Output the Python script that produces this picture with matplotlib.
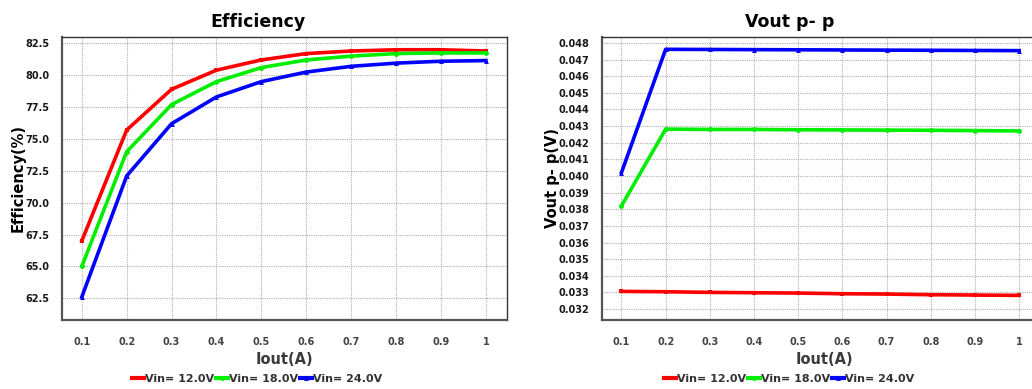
import matplotlib
matplotlib.use("Agg")
import matplotlib.pyplot as plt
from matplotlib.lines import Line2D

iout = [0.1, 0.2, 0.3, 0.4, 0.5, 0.6, 0.7, 0.8, 0.9, 1.0]
xtick_labels = ["0.1", "0.2", "0.3", "0.4", "0.5", "0.6", "0.7", "0.8", "0.9", "1"]
series_names = ["Vin= 12.0V", "Vin= 18.0V", "Vin= 24.0V"]

eff_12 = [67.0, 75.7, 78.9, 80.4, 81.2, 81.7, 81.9, 82.0, 82.0, 81.9]
eff_18 = [65.0, 74.0, 77.7, 79.5, 80.6, 81.2, 81.5, 81.7, 81.75, 81.75]
eff_24 = [62.6, 72.1, 76.2, 78.3, 79.5, 80.25, 80.7, 80.95, 81.1, 81.15]

vpp_12 = [0.03306, 0.03304, 0.03300, 0.03298, 0.03296, 0.03292, 0.03290, 0.03286, 0.03284, 0.03282]
vpp_18 = [0.0382, 0.04282, 0.04280, 0.04280, 0.04278, 0.04277, 0.04276, 0.04275, 0.04273, 0.04271]
vpp_24 = [0.0402, 0.04762, 0.04761, 0.04760, 0.04759, 0.04758, 0.04757, 0.04756, 0.04755, 0.04754]

eff_ticks = [62.5, 65.0, 67.5, 70.0, 72.5, 75.0, 77.5, 80.0, 82.5]
vpp_ticks = [0.032 + 0.001 * i for i in range(17)]

colors = ["#ff0000", "#00ee00", "#0000ff"]
markers = ["s", "o", "^"]

W, H = 1032, 389
fig = plt.figure(figsize=(W / 100, H / 100), dpi=100)

def px_axes(l, t, r, b):
    return fig.add_axes([l / W, 1 - b / H, (r - l) / W, (b - t) / H])

ax1 = px_axes(62, 37, 507, 320)
ax2 = px_axes(602, 37, 1047, 320)

def style(ax, title, title_x, ylabel, ylabel_x, ylim, yticks, yfmt, xlim):
    ax.set_xlim(*xlim)
    ax.set_ylim(*ylim)
    ax.set_xticks(iout)
    ax.set_xticklabels(xtick_labels)
    ax.set_yticks(yticks)
    ax.set_yticklabels([yfmt.format(v) for v in yticks])
    ax.tick_params(length=0, labelsize=7, pad=9)
    ax.tick_params(axis="x", pad=12, colors="#444444")
    ax.tick_params(axis="y", colors="#1a1a1a")
    for lab in ax.get_xticklabels() + ax.get_yticklabels():
        lab.set_fontweight("bold")
    ax.grid(True, color="#b0b0b0", linestyle=(0, (1, 1)), linewidth=0.8)
    ax.set_axisbelow(True)
    for s in ["left", "bottom"]:
        ax.spines[s].set_linewidth(1.6)
        ax.spines[s].set_color("#555555")
    for s in ["top", "right"]:
        ax.spines[s].set_linewidth(1.0)
        ax.spines[s].set_color("#333333")
    ax.set_title(title, fontsize=12.5, fontweight="bold", pad=7, x=title_x)
    ax.set_ylabel(ylabel, fontsize=10.5, fontweight="bold")
    ax.yaxis.set_label_coords(ylabel_x, 0.5)
    ax.set_xlabel("Iout(A)", fontsize=10.5, fontweight="bold", color="#3a3a3a", labelpad=4)

style(ax1, "Efficiency", (258 - 62) / 445, "Efficiency(%)", (26 - 62) / 445,
      (60.8, 83.0), eff_ticks, "{:.1f}", (0.056, 1.047))
style(ax2, "Vout p- p", (790 - 602) / 445, "Vout p- p(V)", (560 - 602) / 445,
      (0.03134, 0.04836), vpp_ticks, "{:.3f}", (0.056, 1.063))

for ax, data in ((ax1, (eff_12, eff_18, eff_24)), (ax2, (vpp_12, vpp_18, vpp_24))):
    for d, c, m, n in zip(data, colors, markers, series_names):
        ax.plot(iout, d, color=c, linewidth=2.6, marker=m, markersize=3.5,
                markeredgewidth=0, label=n, clip_on=False, zorder=3)

handles = [Line2D([0], [0], color=c, linewidth=3, marker=m, markersize=3.5, markeredgewidth=0)
           for c, m in zip(colors, markers)]
for cx in (257 / W, 789 / W):
    fig.legend(handles, series_names, loc="center", bbox_to_anchor=(cx, 1 - 379 / H),
               ncol=3, frameon=False, handlelength=1.1, handletextpad=0.1,
               columnspacing=0.15, prop={"weight": "bold", "size": 8},
               labelcolor="#333333")

fig.savefig("out.png", dpi=100)
